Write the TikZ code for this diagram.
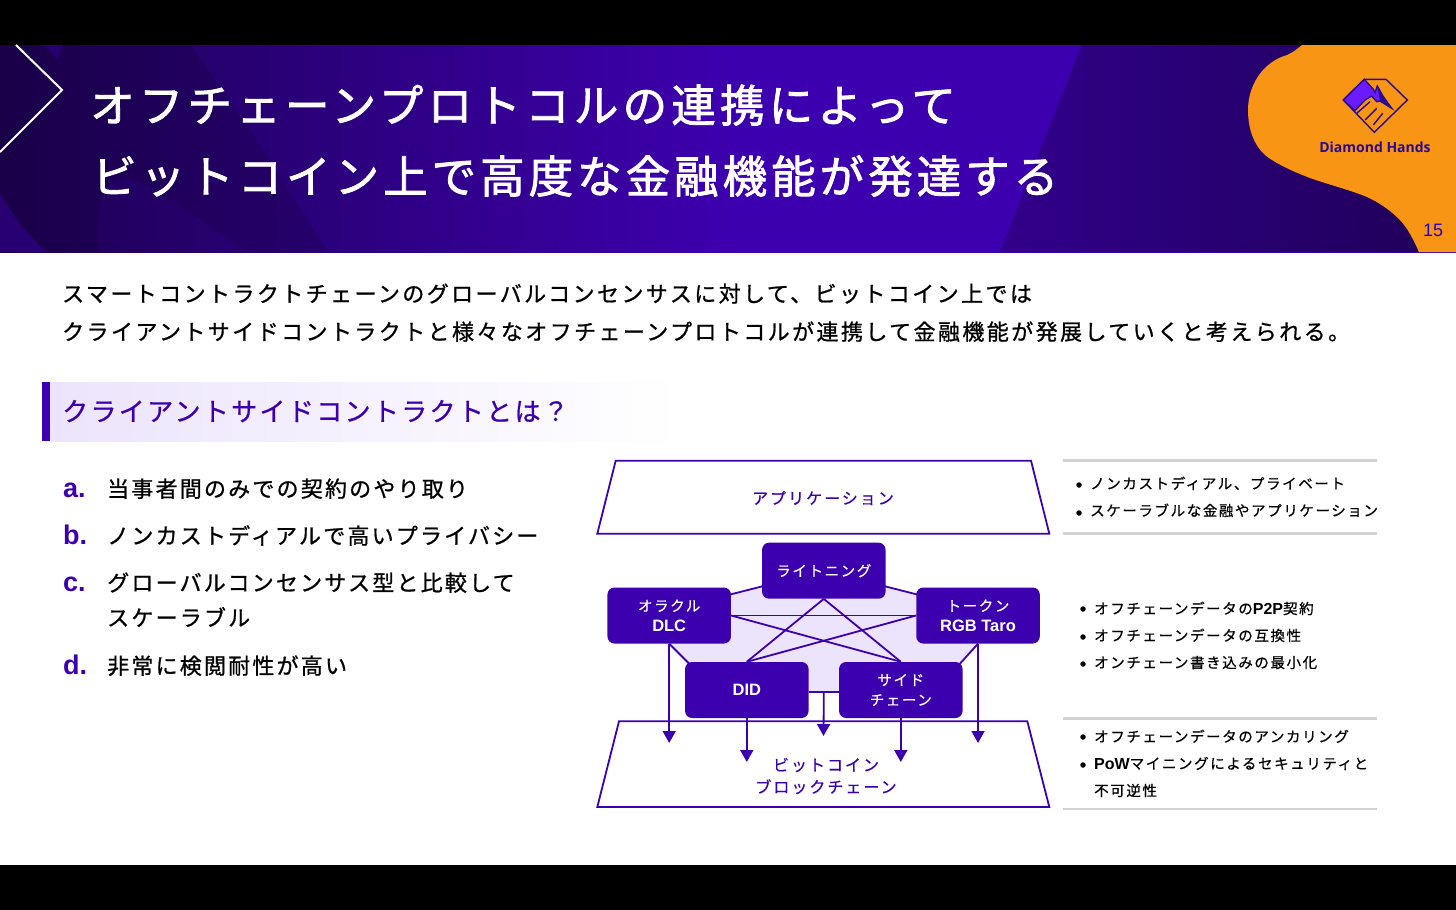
\documentclass[tikz,border=0pt]{standalone}
\usepackage{fontspec}
\usetikzlibrary{arrows.meta,calc}
\newfontfamily\jpT[LetterSpace=9.5,FakeBold=1.8]{Noto Sans CJK JP}
\newfontfamily\jpTb[LetterSpace=9,FakeBold=1.8]{Noto Sans CJK JP}
\newfontfamily\jpB[LetterSpace=11,FakeBold=0.9]{Noto Sans CJK JP}
\newfontfamily\jpH[LetterSpace=9,FakeBold=0.8]{Noto Sans CJK JP}
\newfontfamily\jpL[LetterSpace=10,FakeBold=0.9]{Noto Sans CJK JP}
\newfontfamily\jpD[LetterSpace=12.5,FakeBold=0.4]{Noto Sans CJK JP}
\newfontfamily\jpS[LetterSpace=11,FakeBold=0.6]{Noto Sans CJK JP}
\newfontfamily\latin[Ligatures=TeX]{Liberation Sans}
\newfontfamily\logof{Open Sans}
\definecolor{vio}{HTML}{3D00AE}
\definecolor{lav}{HTML}{ECE4FC}
\definecolor{org}{HTML}{F99514}
\definecolor{rulegray}{HTML}{D2D2D2}
\definecolor{logodark}{HTML}{2A0A90}
\definecolor{logofill}{HTML}{6A1BFF}
\pgfdeclarehorizontalshading{headshade}{100bp}{
 color(0bp)=(vio!30!black!75!vio); color(25bp)=(vio!30!black!75!vio); color(50bp)=(vio); color(75bp)=(vio); color(100bp)=(vio)}
\pgfdeclarehorizontalshading{hbar}{100bp}{color(0bp)=(lav); color(25bp)=(lav); color(75bp)=(white); color(100bp)=(white)}
\pgfdeclarehorizontalshading{hright}{100bp}{color(0bp)=(vio!80!black); color(25bp)=(vio!80!black); color(75bp)=(vio!50!black); color(100bp)=(vio!50!black)}
\tikzset{
 ttl/.style={anchor=base west,inner sep=0,text=white,font={\jpT\fontsize{44.5}{52}\selectfont}},
 ttlb/.style={anchor=base west,inner sep=0,text=white,font={\jpTb\fontsize{44.5}{52}\selectfont}},
 bodytxt/.style={anchor=base west,inner sep=0,text=black,font={\jpB\fontsize{22}{26}\selectfont}},
 listtxt/.style={anchor=base west,inner sep=0,text=black,font={\jpL\fontsize{22}{26}\selectfont}},
 listmark/.style={anchor=base west,inner sep=0,text=vio,font={\latin\bfseries\fontsize{27}{30}\selectfont}},
 notetxt/.style={anchor=base west,inner sep=0,text=black,font={\jpS\fontsize{14.5}{18}\selectfont}},
 bull/.style={circle,fill=black,inner sep=0,minimum size=5.5pt},
 layerbox/.style={draw=vio,line width=1.8pt,fill=white,line join=miter},
 layertxt/.style={align=center,inner sep=0,text=vio,font={\jpD\fontsize{16}{22}\selectfont}},
 proto/.style={rounded corners=7pt,fill=vio,text=white,inner sep=0,minimum width=123.5pt,minimum height=56pt,align=center,font={\jpS\fontsize{14.5}{20}\selectfont}},
 link/.style={draw=vio,line width=1.8pt},
 drop/.style={draw=vio,line width=1.8pt,-{Triangle[length=12pt,width=13pt]}},
 grayrule/.style={draw=rulegray,line width=2.8pt},
 logoline/.style={draw=logodark,line width=1.4pt,line join=miter},
}
\newcommand{\bdlat}[1]{{\latin\bfseries #1}}
\begin{document}
\begin{tikzpicture}[x=1pt,y=-1pt]
\useasboundingbox (0,0) rectangle (1456,910);
\fill[white] (0,0) rectangle (1456,910);
\fill[black] (0,0) rectangle (1456,45);
\fill[black] (0,865) rectangle (1456,910);
% header
\shade[shading=headshade] (0,45) rectangle (1456,252);
\shade[shading=hright] (1082,45) -- (1456,45) -- (1456,252) -- (1000,252) -- cycle;
\fill[vio,opacity=.45] (43,45) -- (63,45) -- (58,59) -- cycle;
\fill[vio,opacity=.35] (0,193) .. controls (14,218) and (30,238) .. (47,252) -- (0,252) -- cycle;
\fill[black,opacity=.12] (190,45) -- (250,130) -- (328,252) -- (250,252) .. controls (190,215) and (150,180) .. (125,178) .. controls (105,178) and (97,195) .. (97,252) -- (47,252) .. controls (30,238) and (14,218) .. (0,193) -- (0,45) -- cycle;
\draw[white,line width=2pt,line join=miter] (16,45) -- (62,90) -- (0,152);
% orange blob
\fill[org] (1302,45) .. controls (1296,50) and (1292,53) .. (1287,55)
 .. controls (1263,62) and (1248,85) .. (1248,110)
 .. controls (1248,135) and (1258,152) .. (1272,160)
 .. controls (1285,168) and (1297,173) .. (1310,178)
 .. controls (1330,185) and (1350,190) .. (1367,197)
 .. controls (1382,204) and (1392,212) .. (1400,220)
 .. controls (1409,230) and (1414,241) .. (1419,252)
 -- (1456,252) -- (1456,45) -- cycle;
% logo
\draw[logoline] (1343.3,100) -- (1364.3,79.3) -- (1386,79.3) -- (1407.3,100) -- (1374.3,132.3) -- cycle;
\filldraw[logoline,fill=logofill] (1343.3,100) -- (1364.3,79.3) -- (1373.3,89.3) -- (1375,92.7) -- (1377.3,86) -- (1383.3,96.7) -- (1391.7,108.3) -- (1380,101) -- (1376.7,101.7) -- (1371.7,96) -- (1365,100) -- (1355,110.7) -- cycle;
\fill[logodark] (1377.3,86) -- (1383.3,96.7) -- (1391.7,108.3) -- (1380,101) -- cycle;
\draw[logoline] (1356.7,113.3) -- (1370,101.7) (1365,120) -- (1376.7,108.3) (1373.3,125) -- (1382.7,113.3);
\node[anchor=base,inner sep=0,text=logodark,font={\logof\bfseries\fontsize{14}{16}\selectfont}] (logotext) at (1375,152) {Diamond Hands};
\node[anchor=base,inner sep=0,text=vio!70!blue,font={\latin\fontsize{18}{20}\selectfont}] (pageno) at (1433,236) {15};
% title
\node[ttl] (t1) at (90,122) {オフチェーンプロトコルの連携によって};
\node[ttlb] (t2) at (92,193) {ビットコイン上で高度な金融機能が発達する};
% body
\node[bodytxt] (b1) at (62,302) {スマートコントラクトチェーンのグローバルコンセンサスに対して、ビットコイン上では};
\node[bodytxt] (b2) at (62,340) {クライアントサイドコントラクトと様々なオフチェーンプロトコルが連携して金融機能が発展していくと考えられる。};
% section heading
\shade[shading=hbar] (50,382) rectangle (680,441);
\fill[vio] (42,382) rectangle (50,441);
\node[anchor=base west,inner sep=0,text=vio,font={\jpH\fontsize{26}{30}\selectfont}] (sec) at (62,421) {クライアントサイドコントラクトとは？};
% list
\node[listmark] (ma) at (63,497) {a.};
\node[listtxt] (la) at (107,497) {当事者間のみでの契約のやり取り};
\node[listmark] (mb) at (63,544) {b.};
\node[listtxt] (lb) at (107,544) {ノンカストディアルで高いプライバシー};
\node[listmark] (mc) at (63,591) {c.};
\node[listtxt] (lc) at (107,591) {グローバルコンセンサス型と比較して};
\node[listtxt] (lc2) at (107,626) {スケーラブル};
\node[listmark] (md) at (63,674) {d.};
\node[listtxt] (ld) at (107,674) {非常に検閲耐性が高い};
% layers
\draw[layerbox] (615.7,460.7) -- (1031,460.7) -- (1049.3,533.7) -- (597.3,533.7) -- cycle;
\node[layertxt] (app) at (823,498) {アプリケーション};
\draw[layerbox] (619,721.3) -- (1027.3,721.3) -- (1049.3,807) -- (597.3,807) -- cycle;
\node[layertxt] (btc) at (826,776) {ビットコイン\\ブロックチェーン};
% nodes positions
\coordinate (cl) at (823.8,570.7);
\coordinate (co) at (669.2,615.5);
\coordinate (ct) at (978,615.5);
\coordinate (cd) at (746.8,690);
\coordinate (cs) at (900.8,690);
% pentagon
\fill[lav] (669.2,610) -- (823.8,570.7) -- (978,610) -- (978,643.7) -- (958,665) -- (958,691.7) -- (689,691.7) -- (689,663.7) -- (669.2,643.7) -- cycle;
\draw[link] (669.2,610) -- (823.8,570.7) -- (978,610);
% protocol boxes
\node[proto] (lit) at (cl) {ライトニング};
\node[proto] (orc) at (co) {オラクル\\\bdlat{\fontsize{16.5}{20}\selectfont DLC}};
\node[proto] (tok) at (ct) {トークン\\\bdlat{\fontsize{16.5}{20}\selectfont RGB Taro}};
\node[proto] (did) at (cd) {\bdlat{\fontsize{16.5}{20}\selectfont DID}};
\node[proto] (sid) at (cs) {サイド\\チェーン};
\coordinate (ad) at ($(orc.south)+(20,20)$);
\coordinate (as) at ($(tok.south)+(-19,21)$);
\draw[link] (orc.south) -- (ad);
\draw[link] (tok.south) -- (as);
\draw[link] ([yshift=-1.7pt]did.east) -- ([yshift=-1.7pt]sid.west);
\draw[link] (lit.south) -- (did.north);
\draw[link] (lit.south) -- (sid.north);
\draw[link] (orc.east) -- (tok.west);
\draw[link] (orc.east) -- (sid.north);
\draw[link] (tok.west) -- (did.north);
% arrows
\coordinate (eo) at (669.2,743);
\coordinate (ed) at (746.8,762);
\coordinate (em) at (823.5,736);
\coordinate (es) at (900.8,762);
\coordinate (et) at (978,743);
\coordinate (sm) at ($(did.east)!.5!(sid.west)+(0,1.7)$);
\draw[drop] (orc.south) -- (eo);
\draw[drop] (did.south) -- (ed);
\draw[drop] (sm) -- (em);
\draw[drop] (sid.south) -- (es);
\draw[drop] (tok.south) -- (et);
% right notes
\draw[grayrule] (1062.7,460.7) -- (1377,460.7);
\draw[grayrule] (1062.7,533.7) -- (1377,533.7);
\draw[grayrule] (1062.7,718.7) -- (1377,718.7);
\draw[grayrule] (1062.7,809) -- (1377,809);
\node[bull] (n1b) at (1079,485) {}; \node[notetxt] (n1) at (1090,489) {ノンカストディアル、プライベート};
\node[bull] (n2b) at (1079,513) {}; \node[notetxt] (n2) at (1090,516) {スケーラブルな金融やアプリケーション};
\node[bull] (n3b) at (1083,609) {}; \node[notetxt] (n3) at (1094,614) {オフチェーンデータの\bdlat{\fontsize{16}{18}\selectfont P2P}契約};
\node[bull] (n4b) at (1083,637) {}; \node[notetxt] (n4) at (1094,641) {オフチェーンデータの互換性};
\node[bull] (n5b) at (1083,664) {}; \node[notetxt] (n5) at (1094,668) {オンチェーン書き込みの最小化};
\node[bull] (n6b) at (1083,737) {}; \node[notetxt] (n6) at (1094,742) {オフチェーンデータのアンカリング};
\node[bull] (n7b) at (1083,765) {}; \node[notetxt] (n7) at (1094,769) {\bdlat{\fontsize{16}{18}\selectfont PoW}マイニングによるセキュリティと};
\node[notetxt] (n8) at (1094,796) {不可逆性};
\end{tikzpicture}
\end{document}
